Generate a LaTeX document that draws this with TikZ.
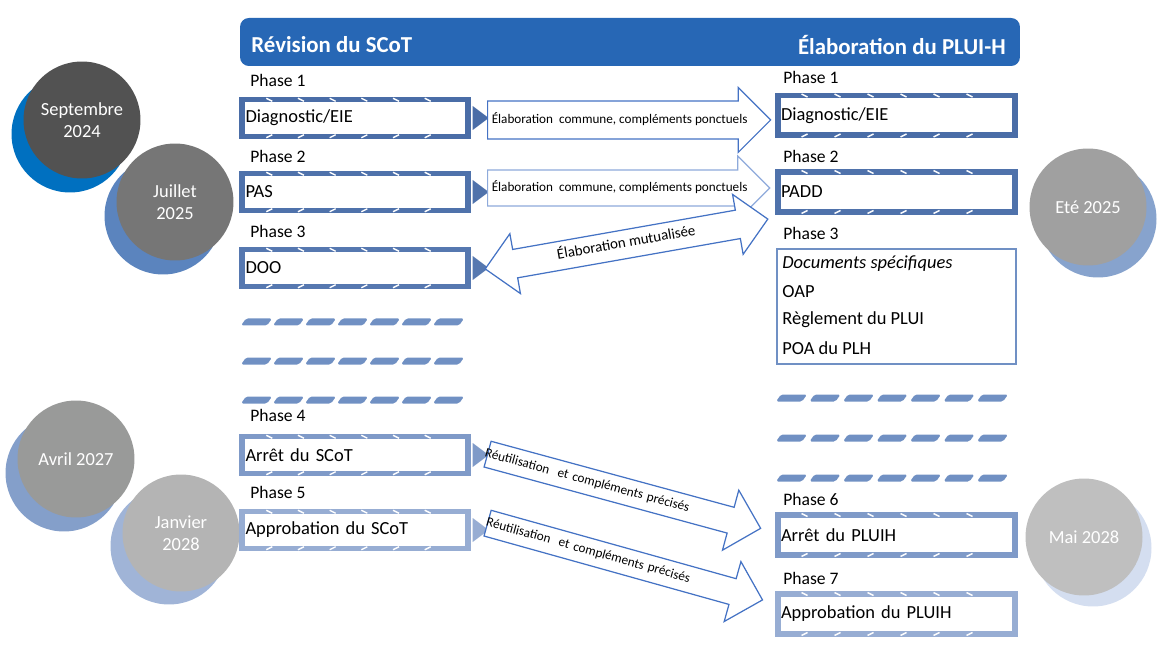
\documentclass[tikz,border=0pt]{standalone}
\usepackage{fontspec}
\setmainfont{Carlito}
\usetikzlibrary{shapes.arrows}

\definecolor{headerblue}{HTML}{2767B5}
\definecolor{arrowblue}{HTML}{4472C4}
\definecolor{arrowlight}{HTML}{8EAADB}
\definecolor{bandA}{HTML}{4A6DA7}
\definecolor{bandB}{HTML}{4F72AB}
\definecolor{bandC}{HTML}{5678B0}
\definecolor{bandD}{HTML}{7F9AC8}
\definecolor{bandE}{HTML}{97ADD3}
\definecolor{dashblue}{HTML}{7090C3}
\definecolor{docblue}{HTML}{7090C4}

\begin{document}
\begin{tikzpicture}[x=0.02cm,y=-0.02cm]
        % Define styles
        \tikzset{
            date/.style={circle, minimum size=2.34cm, inner sep=0pt, text=white, align=center, font=\fontsize{10.5}{12.5}\selectfont},
            shade/.style={circle, minimum size=2.34cm, inner sep=0pt},
            phase/.style={anchor=west, inner sep=0pt, font=\fontsize{10}{12}\selectfont},
            leftbox/.style={rectangle, fill=white, line width=0.11cm, text width=4.38cm, inner xsep=0.07cm, inner ysep=0pt, minimum height=0.74cm, align=left, font=\fontsize{10.5}{12.5}\selectfont},
            rightbox/.style={rectangle, fill=white, line width=0.12cm, text width=4.62cm, inner xsep=0.07cm, inner ysep=0pt, minimum height=0.8cm, align=left, font=\fontsize{10.5}{12.5}\selectfont},
            blockarrow/.style={single arrow, draw=arrowblue, fill=white, line width=0.7pt, inner xsep=2pt, text height=5pt, text depth=1.5pt, font=\fontsize{7.5}{9}\selectfont},
            notch/.style={draw=white, line width=0.8pt},
            title/.style={inner sep=0pt, text=white, font=\fontsize{13}{15}\selectfont\bfseries}
        }
        \useasboundingbox (0,0) rectangle (1159,658);

        % Header
        \node[fill=headerblue, rounded corners=5pt, minimum width=15.6cm, minimum height=0.96cm, inner sep=0pt] (header_bar) at (630,42) {};
        \node[title, anchor=west] (scot_title) at (251,45) {Révision du SCoT};
        \node[title, anchor=east] (pluih_title) at (1006,45) {Élaboration du PLUI-H};

        % Dates
        \node[shade, fill={rgb,255:red,0;green,112;blue,192}] (shade_sept) at (70,134) {};
        \node[date, fill={rgb,255:red,82;green,82;blue,82}] (date_sept) at (82,120) {Septembre\\2024};
        \node[shade, fill={rgb,255:red,91;green,132;blue,190}] (shade_juil) at (163,216) {};
        \node[date, fill={rgb,255:red,118;green,118;blue,118}] (date_juil) at (175,202) {Juillet\\2025};
        \node[shade, fill={rgb,255:red,135;green,163;blue,205}] (shade_ete) at (1098,219) {};
        \node[date, fill={rgb,255:red,160;green,160;blue,160}] (date_ete) at (1088,207) {Eté 2025};
        \node[shade, fill={rgb,255:red,132;green,159;blue,202}] (shade_avril) at (64,473) {};
        \node[date, fill={rgb,255:red,153;green,154;blue,153}] (date_avril) at (76,459) {Avril 2027};
        \node[shade, fill={rgb,255:red,160;green,180;blue,215}] (shade_janv) at (169,546) {};
        \node[date, fill={rgb,255:red,180;green,180;blue,180}] (date_janv) at (181,533) {Janvier\\2028};
        \node[shade, fill={rgb,255:red,212;green,222;blue,240}] (shade_mai) at (1093,548) {};
        \node[date, fill={rgb,255:red,191;green,191;blue,191}] (date_mai) at (1084,537) {Mai 2028};

        % SCoT phases
        \node[phase] (scot_phase_1) at (250,80) {Phase 1};
        \node[leftbox, draw=bandA] (scot_box_1) at (355,118) {Diagnostic/EIE};
        \node[phase] (scot_phase_2) at (250,156) {Phase 2};
        \node[leftbox, draw=bandB] (scot_box_2) at (355,192) {PAS};
        \node[phase] (scot_phase_3) at (250,231) {Phase 3};
        \node[leftbox, draw=bandC] (scot_box_3) at (355,268) {DOO};
        \node[phase] (scot_phase_4) at (250,415) {Phase 4};
        \node[leftbox, draw=bandD] (scot_box_4) at (355,455) {Arrêt du SCoT};
        \node[phase] (scot_phase_5) at (250,492) {Phase 5};
        \node[leftbox, draw=bandE] (scot_box_5) at (355,530) {Approbation du SCoT};

        \foreach \b/\c in {scot_box_1/bandA, scot_box_2/bandB, scot_box_3/bandC, scot_box_4/bandD, scot_box_5/bandE} {
            \fill[\c] ([xshift=0.04cm]\b.east) ++(0,-12) -- ++(16,12) -- ++(-16,12) -- cycle;
        }
        \foreach \b in {scot_box_1, scot_box_2, scot_box_3, scot_box_4, scot_box_5} {
            \foreach \k in {0,...,5} {
                \draw[notch] ([xshift=0.54cm+0.634cm*\k, yshift=-0.03cm]\b.north west) -- ++(6,3);
                \draw[notch] ([xshift=0.54cm+0.634cm*\k, yshift=0.03cm]\b.south west) -- ++(6,-3);
            }
        }

        % PLUI-H phases
        \node[phase] (pluih_phase_1) at (783,77) {Phase 1};
        \node[rightbox, draw=bandA] (pluih_box_1) at (896.5,115.5) {Diagnostic/EIE};
        \node[phase] (pluih_phase_2) at (783,156) {Phase 2};
        \node[rightbox, draw=bandB] (pluih_box_2) at (896.5,192) {PADD};
        \node[phase] (pluih_phase_3) at (783,233) {Phase 3};
        \node[rectangle, draw=docblue, line width=1.3pt, fill=white, minimum width=4.78cm, minimum height=2.3cm, inner sep=0pt] (pluih_box_3) at (896.5,306.5) {};
        \node[phase, font=\fontsize{10.5}{12.5}\selectfont\itshape] (pluih_doc_1) at (782,264) {Documents spécifiques};
        \node[phase, font=\fontsize{10.5}{12.5}\selectfont] (pluih_doc_2) at (782,292) {OAP};
        \node[phase, font=\fontsize{10.5}{12.5}\selectfont] (pluih_doc_3) at (782,320) {Règlement du PLUI};
        \node[phase, font=\fontsize{10.5}{12.5}\selectfont] (pluih_doc_4) at (782,348) {POA du PLH};
        \node[phase] (pluih_phase_6) at (783,499) {Phase 6};
        \node[rightbox, draw=bandD] (pluih_box_6) at (896.5,535) {Arrêt du PLUIH};
        \node[phase] (pluih_phase_7) at (783,578) {Phase 7};
        \node[rightbox, draw=bandE] (pluih_box_7) at (896.5,614) {Approbation du PLUIH};

        \foreach \b in {pluih_box_1, pluih_box_2, pluih_box_6, pluih_box_7} {
            \foreach \k in {0,...,5} {
                \draw[notch] ([xshift=0.54cm+0.66cm*\k, yshift=-0.03cm]\b.north west) -- ++(6,3);
                \draw[notch] ([xshift=0.54cm+0.66cm*\k, yshift=0.03cm]\b.south west) -- ++(6,-3);
            }
        }

        % Dashes
        \foreach \y in {322,361,400}
            \foreach \k in {0,...,6}
                \fill[dashblue, rounded corners=1pt] (241+32*\k,\y+3.5) -- (246+32*\k,\y-3.5) -- (272+32*\k,\y-3.5) -- (267+32*\k,\y+3.5) -- cycle;
        \foreach \y in {398,438,478}
            \foreach \k in {0,...,6}
                \fill[dashblue, rounded corners=1pt] (776+33.5*\k,\y+3.5) -- (781+33.5*\k,\y-3.5) -- (807+33.5*\k,\y-3.5) -- (802+33.5*\k,\y+3.5) -- cycle;

        % Arrows
        \node[blockarrow, anchor=tail, inner ysep=7.2pt, minimum height=5.62cm, single arrow head extend=0.27cm] (arrow_1) at (487,120) {Élaboration\ \ commune, compléments ponctuels};
        \node[blockarrow, draw=arrowlight, anchor=tail, inner ysep=6.65pt, minimum height=5.62cm, single arrow head extend=0.28cm] (arrow_2) at (487,188) {Élaboration\ \ commune, compléments ponctuels};
        \node[blockarrow, double arrow, inner ysep=4.6pt, minimum height=5.74cm, double arrow head extend=0.32cm, rotate=10, font=\fontsize{8.5}{10}\selectfont] (arrow_3) at (626.5,244) {Élaboration mutualisée};
        \node[blockarrow, anchor=tail, inner xsep=1pt, inner ysep=4pt, minimum height=5.66cm, single arrow head extend=0.355cm, rotate=-15.2, text width=5cm, align=left] (arrow_4) at (487,454) {\hspace*{-7pt}Réutilisation\ \ et compléments précisés};
        \node[blockarrow, anchor=tail, inner xsep=1pt, inner ysep=4pt, minimum height=5.71cm, single arrow head extend=0.355cm, rotate=-15.6, text width=5cm, align=left] (arrow_5) at (487,523) {\hspace*{-7pt}Réutilisation\ \ et compléments précisés};
\end{tikzpicture}
\end{document}
